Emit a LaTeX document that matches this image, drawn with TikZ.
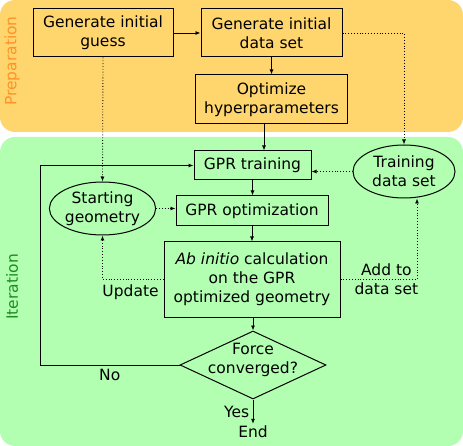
\documentclass[tikz,border=0pt]{standalone}
\usepackage{fontspec}
\setmainfont{DejaVu Sans}
\usetikzlibrary{shapes.geometric,arrows.meta}

\definecolor{prepbg}{RGB}{255,213,110}
\definecolor{iterbg}{RGB}{178,255,178}
\definecolor{preptext}{RGB}{255,145,40}
\definecolor{itertext}{RGB}{30,140,30}

\begin{document}
\begin{tikzpicture}[x=1pt, y=-1pt,
    every node/.style={font=\fontsize{15.5}{19}\selectfont, align=center},
    >={Latex[length=5pt,width=4pt]},
    stepbox/.style={draw, line width=1pt, inner sep=0pt},
    datablob/.style={draw, ellipse, line width=1pt, inner sep=0pt, minimum width=102pt, minimum height=53pt},
    decision/.style={draw, diamond, line width=1pt, inner sep=0pt, minimum width=146pt, minimum height=68pt},
    flow/.style={->, line width=0.85pt},
    link/.style={->, line width=0.85pt, dotted}]

    \useasboundingbox (0,0) rectangle (463,446);

    % Bands
    \fill[prepbg, rounded corners=15pt] (0,0) rectangle (463,132);
    \fill[iterbg, rounded corners=15pt] (0,137) rectangle (463,446);
    \node[rotate=90, text=preptext] (preplabel) at (12,61) {Preparation};
    \node[rotate=90, text=itertext] (iterlabel) at (12,287) {Iteration};

    % Nodes (Preparation)
    \node[stepbox, minimum width=140pt, minimum height=48pt] (guess) at (103,33) {Generate initial\\guess};
    \node[stepbox, minimum width=141pt, minimum height=48pt] (dataset) at (271.5,33) {Generate initial\\data set};
    \node[stepbox, minimum width=152pt, minimum height=49pt] (optim) at (271.5,99.5) {Optimize\\hyperparameters};

    % Nodes (Iteration)
    \node[stepbox, minimum width=117pt, minimum height=29pt] (gprtrain) at (252.5,165.5) {GPR training};
    \node[datablob] (training) at (404,171.5) {Training\\data set};
    \node[datablob, minimum width=103pt] (start) at (102.5,208.5) {Starting\\geometry};
    \node[stepbox, minimum width=152pt, minimum height=30pt] (gpropt) at (252,211) {GPR optimization};
    \node[stepbox, minimum width=176pt, minimum height=75pt] (abinitio) at (252,279.5) {\textit{Ab initio} calculation\\on the GPR\\optimized geometry};
    \node[decision, label={[yshift=5pt]center:{Force\\converged?}}] (conv) at (253,365) {};
    \node[inner sep=2pt] (finish) at (253,432) {End};
    \coordinate (loopcorner) at (40,365);

    % Edges
    % preparation chain
    \draw[flow] (guess.east) -- (dataset.west);
    \draw[flow] (dataset.south) -- (optim.north);
    \draw[flow] ([xshift=-7.5pt]optim.south) -- ([xshift=-7.5pt]optim.south |- gprtrain.north);

    % inputs into the loop
    \draw[link] (guess.south) -- (start.north);
    \draw[link] (dataset.east) -| (training.north);
    \draw[link] (training.west) -- (training.west -| gprtrain.east);
    \draw[link] (start.east) -- (start.east -| gpropt.west);

    % main loop
    \draw[flow] (gprtrain.south) -- (gprtrain.south |- gpropt.north);
    \draw[flow] (gpropt.south) -- (gpropt.south |- abinitio.north);
    \draw[flow] (abinitio.south) -- (abinitio.south -| conv.north) -- (conv.north);
    \draw[flow] (conv.south) -- node[left] {Yes} (finish.north);
    \draw[flow] (conv.west) -- node[below] {No} (loopcorner) |- (gprtrain.west);

    % feedback
    \draw[link] (abinitio.west) -| node[pos=0.27, below=1pt] {Update} (start.south);
    \draw[link] (abinitio.east) -| node[pos=0.3] {Add to\\data set} ([xshift=13pt]training.south);

\end{tikzpicture}
\end{document}
